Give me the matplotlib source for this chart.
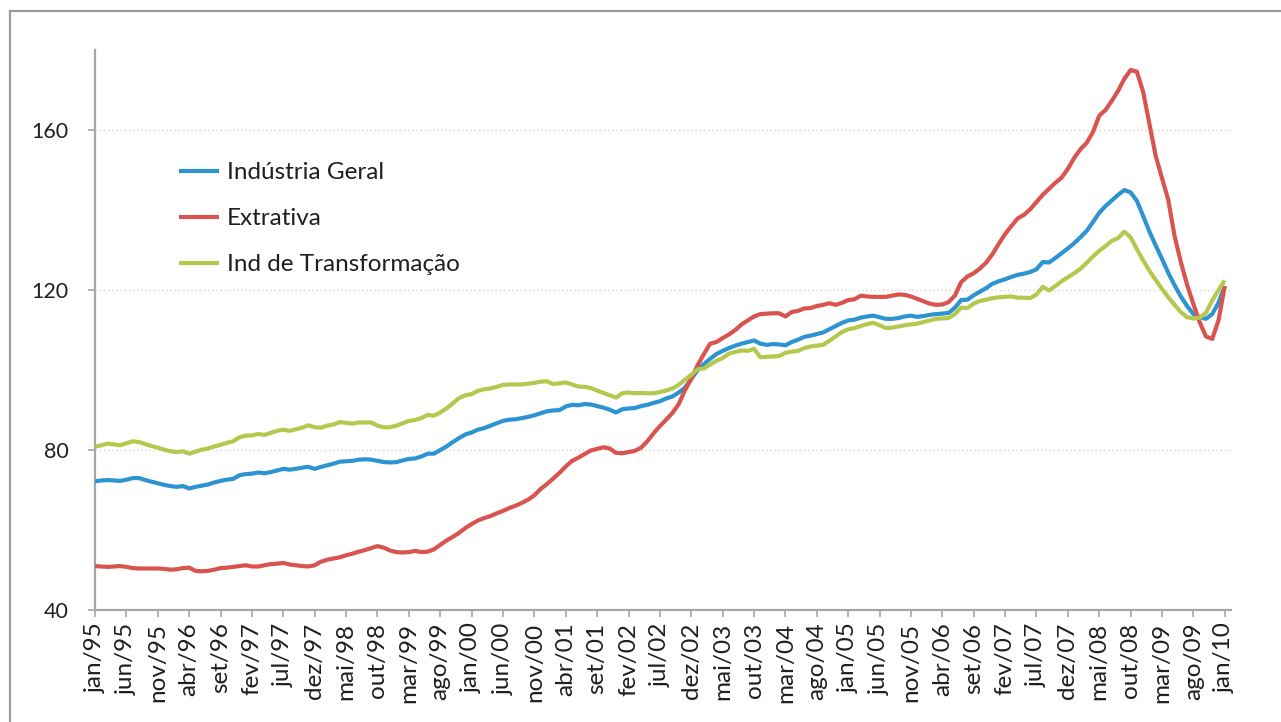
"""Production index chart: Industria Geral, Extrativa and Ind de Transformacao, jan/95 - jan/10."""

import matplotlib
matplotlib.use("Agg")
import matplotlib.pyplot as plt
from matplotlib.patches import Rectangle

# ---------------------------------------------------------------------------
# Data (monthly, jan/95 .. jan/10)
# ---------------------------------------------------------------------------

industria_geral = [
    72.2, 72.4, 72.5, 72.4, 72.3, 72.6, 73.0, 73.0, 72.5, 72.1, 71.7, 71.3,
    71.0, 70.8, 71.0, 70.4, 70.8, 71.1, 71.4, 71.9, 72.3, 72.6, 72.8, 73.7,
    74.0, 74.1, 74.4, 74.2, 74.5, 74.9, 75.3, 75.1, 75.3, 75.6, 75.8, 75.3,
    75.8, 76.2, 76.6, 77.1, 77.2, 77.3, 77.6, 77.7, 77.6, 77.3, 77.0, 76.9,
    77.0, 77.4, 77.8, 77.9, 78.4, 79.1, 79.1, 80.0, 80.9, 82.0, 83.0, 83.9,
    84.4, 85.1, 85.5, 86.1, 86.7, 87.3, 87.6, 87.7, 88.0, 88.3, 88.7, 89.2,
    89.7, 89.9, 90.0, 90.9, 91.3, 91.2, 91.5, 91.4, 91.0, 90.6, 90.1, 89.4,
    90.2, 90.4, 90.5, 91.0, 91.3, 91.8, 92.2, 92.9, 93.4, 94.4, 95.6, 97.8,
    99.9, 101.5, 102.8, 104.0, 104.8, 105.5, 106.1, 106.6, 107.0, 107.4, 106.6, 106.3,
    106.5, 106.4, 106.2, 107.0, 107.6, 108.3, 108.6, 109.0, 109.4, 110.2, 111.0, 111.8,
    112.4, 112.6, 113.1, 113.4, 113.6, 113.2, 112.8, 112.8, 113.0, 113.4, 113.6, 113.3,
    113.5, 113.8, 114.0, 114.1, 114.3, 115.6, 117.5, 117.6, 118.7, 119.6, 120.5, 121.6,
    122.2, 122.7, 123.3, 123.8, 124.1, 124.5, 125.2, 127.0, 126.9, 128.0, 129.2, 130.4,
    131.7, 133.2, 134.8, 137.0, 139.3, 141.0, 142.4, 143.8, 145.0, 144.4, 142.3, 138.5,
    134.6, 131.1, 127.8, 124.3, 121.2, 118.4, 116.0, 114.0, 113.2, 112.8, 114.0, 116.8,
    121.0,
]

extrativa = [
    51.0, 50.9, 50.8, 50.9, 51.0, 50.8, 50.5, 50.4, 50.4, 50.4, 50.4, 50.3,
    50.1, 50.2, 50.5, 50.6, 49.8, 49.7, 49.8, 50.1, 50.5, 50.6, 50.8, 51.0,
    51.2, 50.9, 50.9, 51.2, 51.5, 51.6, 51.8, 51.4, 51.2, 51.0, 50.9, 51.2,
    52.1, 52.6, 52.9, 53.2, 53.7, 54.1, 54.6, 55.0, 55.5, 56.0, 55.6, 54.9,
    54.5, 54.4, 54.5, 54.8, 54.5, 54.6, 55.2, 56.3, 57.4, 58.3, 59.3, 60.5,
    61.5, 62.4, 63.0, 63.5, 64.2, 64.8, 65.5, 66.1, 66.8, 67.6, 68.7, 70.3,
    71.5, 72.9, 74.3, 75.9, 77.3, 78.1, 79.0, 79.9, 80.3, 80.7, 80.4, 79.3,
    79.2, 79.5, 79.8, 80.6, 82.2, 84.2, 86.0, 87.6, 89.3, 91.5, 95.0, 97.8,
    101.2, 104.0, 106.6, 107.0, 108.0, 108.9, 110.0, 111.4, 112.4, 113.4, 114.0, 114.1,
    114.2, 114.2, 113.4, 114.5, 114.8, 115.4, 115.5, 116.0, 116.3, 116.7, 116.3, 116.8,
    117.5, 117.7, 118.6, 118.4, 118.3, 118.3, 118.3, 118.6, 118.9, 118.8, 118.4, 117.8,
    117.2, 116.6, 116.3, 116.4, 117.0, 118.6, 122.0, 123.4, 124.2, 125.4, 126.9, 129.0,
    131.6, 134.0, 136.0, 137.9, 138.8, 140.2, 142.0, 143.8, 145.3, 146.8, 148.1, 150.3,
    153.0, 155.2, 156.8, 159.5, 163.6, 165.0, 167.3, 169.8, 172.8, 175.0, 174.6, 169.5,
    161.5, 153.5, 148.0, 142.5, 133.5, 127.0, 121.3, 116.5, 112.0, 108.4, 107.8, 112.4,
    121.0,
]

transformacao = [
    80.8, 81.2, 81.6, 81.4, 81.2, 81.7, 82.2, 82.0, 81.5, 81.0, 80.6, 80.1,
    79.7, 79.5, 79.7, 79.1, 79.6, 80.1, 80.4, 80.9, 81.3, 81.8, 82.2, 83.2,
    83.6, 83.7, 84.0, 83.8, 84.3, 84.8, 85.1, 84.8, 85.2, 85.6, 86.2, 85.7,
    85.6, 86.1, 86.4, 87.0, 86.8, 86.6, 86.9, 86.9, 86.9, 86.1, 85.7, 85.7,
    86.1, 86.7, 87.3, 87.5, 88.0, 88.8, 88.6, 89.4, 90.4, 91.7, 93.0, 93.7,
    94.0, 94.8, 95.2, 95.4, 95.8, 96.3, 96.4, 96.4, 96.4, 96.6, 96.8, 97.1,
    97.2, 96.5, 96.7, 96.9, 96.4, 95.9, 95.8, 95.5, 94.9, 94.3, 93.7, 93.1,
    94.2, 94.4, 94.2, 94.3, 94.2, 94.2, 94.5, 94.9, 95.4, 96.3, 97.6, 98.8,
    100.2, 100.4, 101.4, 102.3, 103.0, 104.1, 104.5, 104.9, 104.8, 105.3, 103.2, 103.3,
    103.4, 103.5, 104.3, 104.6, 104.8, 105.5, 105.9, 106.1, 106.3, 107.3, 108.4, 109.5,
    110.2, 110.5, 111.0, 111.5, 111.8, 111.2, 110.5, 110.6, 110.9, 111.2, 111.4, 111.6,
    112.0, 112.4, 112.8, 112.9, 113.0, 114.0, 115.6, 115.5, 116.6, 117.3, 117.6, 118.0,
    118.2, 118.3, 118.4, 118.1, 118.1, 118.0, 118.9, 120.8, 119.9, 121.0, 122.2, 123.2,
    124.2, 125.3, 126.8, 128.4, 129.8, 131.0, 132.3, 133.0, 134.6, 133.2, 130.2, 127.4,
    124.8, 122.5, 120.3, 118.2, 116.3, 114.5, 113.2, 112.9, 113.1, 114.3, 117.4, 120.0,
    122.4,
]

# one label every five months
tick_labels = [
    "jan/95", "jun/95", "nov/95", "abr/96", "set/96", "fev/97", "jul/97",
    "dez/97", "mai/98", "out/98", "mar/99", "ago/99", "jan/00", "jun/00",
    "nov/00", "abr/01", "set/01", "fev/02", "jul/02", "dez/02", "mai/03",
    "out/03", "mar/04", "ago/04", "jan/05", "jun/05", "nov/05", "abr/06",
    "set/06", "fev/07", "jul/07", "dez/07", "mai/08", "out/08", "mar/09",
    "ago/09", "jan/10",
]
tick_step = 5

series = [
    ("Indústria Geral", industria_geral, "#2c94d1"),
    ("Extrativa", extrativa, "#d9534f"),
    ("Ind de Transformação", transformacao, "#b5c84e"),
]

# ---------------------------------------------------------------------------
# Chart
# ---------------------------------------------------------------------------

plt.rcParams["font.family"] = ["Lato", "DejaVu Sans"]
AXIS_GREY = "#a6a6a6"
TEXT = "#1f1f1f"

fig = plt.figure(figsize=(12.81, 7.22), dpi=100)
fig.patch.set_facecolor("white")
ax = fig.add_axes([0.0742, 0.155, 0.8868, 0.7757])

# outer frame (only top and left edges are inside the picture)
fig.patches.append(Rectangle((9.5 / 1281, -0.1), 1.2, 0.1 + 1 - 11 / 722,
                             transform=fig.transFigure, fill=False,
                             edgecolor="#9c9c9c", linewidth=1.6))

months = list(range(len(industria_geral)))
for label, values, colour in series:
    ax.plot(months, values, color=colour, linewidth=3.0, label=label,
            solid_capstyle="butt", zorder=3)

ax.set_xlim(0, 181)
ax.set_ylim(40, 180)
ax.set_yticks([40, 80, 120, 160])
ax.set_xticks(range(0, len(months), tick_step))
ax.set_xticklabels(tick_labels, rotation=90, fontsize=17.5, color=TEXT)
ax.tick_params(axis="y", labelsize=15.5, labelcolor=TEXT, length=5,
               width=1.2, color=AXIS_GREY, pad=14)
ax.tick_params(axis="x", length=5, width=1.2, color=AXIS_GREY, pad=4)

for side in ("top", "right"):
    ax.spines[side].set_visible(False)
for side in ("left", "bottom"):
    ax.spines[side].set_color(AXIS_GREY)
    ax.spines[side].set_linewidth(1.6)

ax.yaxis.grid(True, linestyle=(0, (1, 2)), color="#d4d4d4", linewidth=1.0)
ax.set_axisbelow(True)

ax.legend(loc="upper left", bbox_to_anchor=(0.074, 0.80), frameon=False,
          fontsize=17.5, handlelength=1.65, handletextpad=0.3,
          labelspacing=1.03, borderaxespad=0, borderpad=0,
          labelcolor=TEXT)

fig.savefig("out.png", dpi=100)
